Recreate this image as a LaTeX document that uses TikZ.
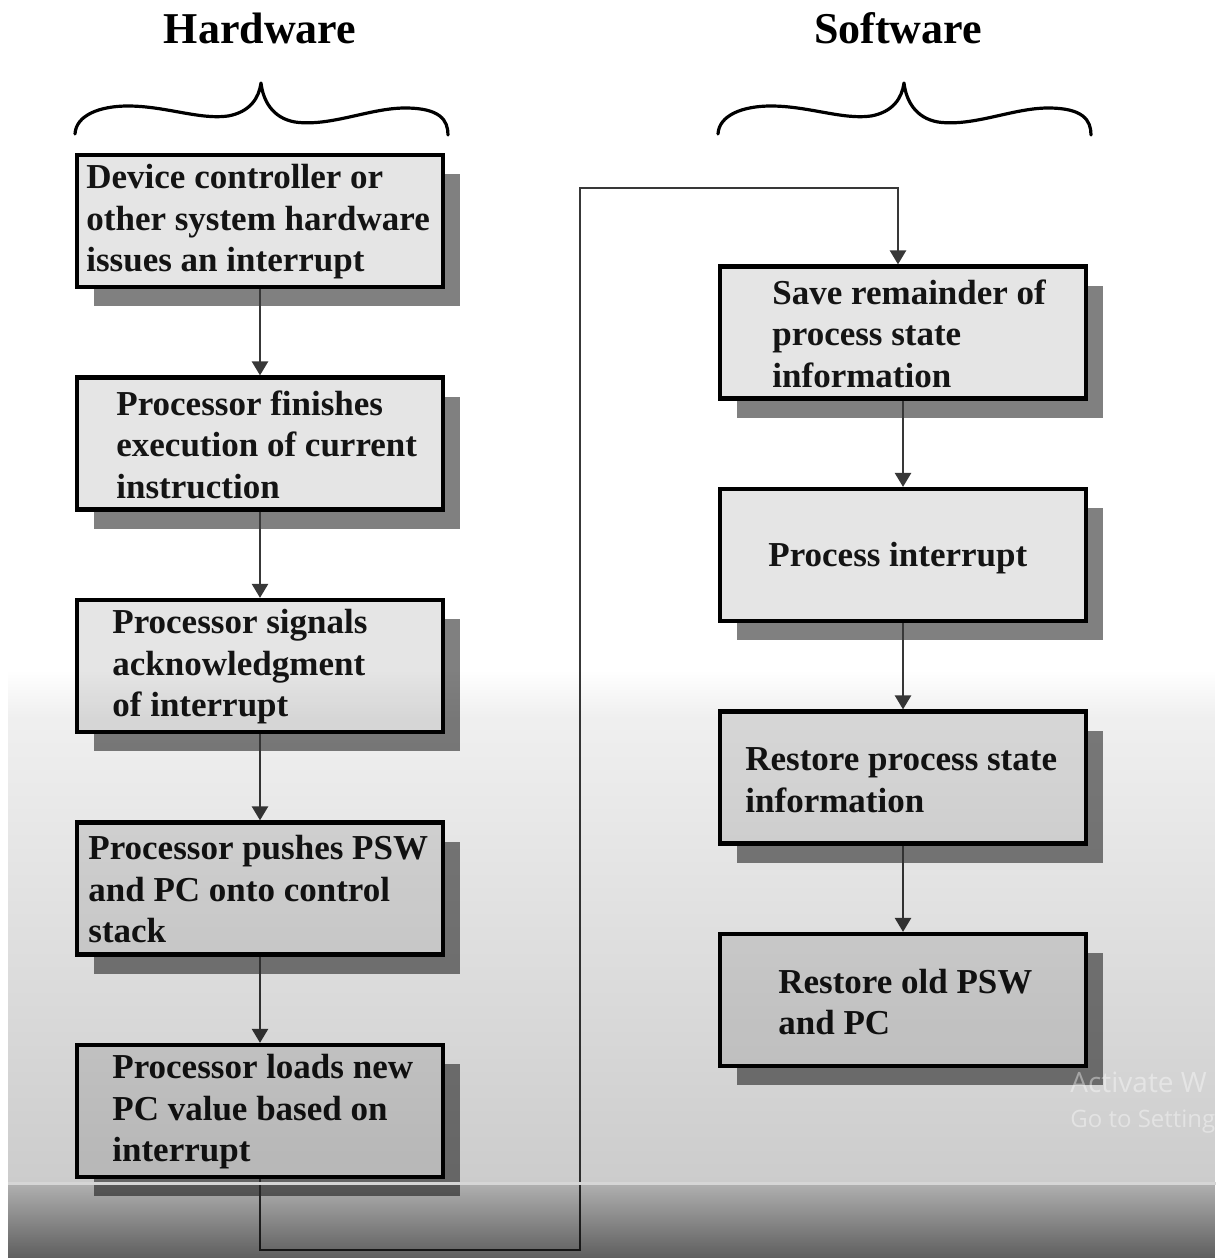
\documentclass[tikz,border=0pt]{standalone}
\usepackage{fontspec}
\setmainfont{Liberation Serif}
\newfontfamily\wmfont{Open Sans}
\usetikzlibrary{arrows.meta,shadows,fadings,calc}

% fadings for the grey veil over the lower part of the page
\tikzfading[name=veilstart, top color=transparent!100, bottom color=transparent!0]
\tikzfading[name=veilfade, top color=transparent!70, bottom color=transparent!0]
\tikzfading[name=bandfade, top color=transparent!50, bottom color=transparent!0]

\begin{document}
\begin{tikzpicture}[x=0.5pt,y=-0.5pt,
  stepbox/.style={draw=black, line width=2.1pt, fill=black!10,
    minimum width=183pt, minimum height=66pt, inner sep=0pt,
    drop shadow={shadow xshift=8.5pt, shadow yshift=-9.5pt, fill=black!50, opacity=1}},
  boxtext/.style={anchor=west, align=left, inner sep=0pt, text=black!92,
    font=\bfseries\fontsize{17.5pt}{20.75pt}\selectfont},
  flow/.style={draw=black!78, line width=1.25pt, -{Triangle[width=8pt,length=7pt]}},
  heading/.style={inner sep=0pt, font=\bfseries\fontsize{22pt}{26pt}\selectfont},
  curly/.pic={
    \draw[line width=1.6pt, line cap=round, line join=round]
      (-186,51) .. controls (-185,32) and (-161,23) .. (-133,23)
      .. controls (-96,23) and (-61,37) .. (-33,33)
      .. controls (-11,29) and (-2,15) .. (0,0)
      .. controls (2,17) and (11,35) .. (34,39)
      .. controls (69,44) and (109,25) .. (144,25)
      .. controls (179,25) and (187,37) .. (187,52);
  }]

\clip (0,0) rectangle (1216,1258);
\fill[white] (0,0) rectangle (1216,1258);

% column headings and braces
\node[heading] (hw) at (260,28) {Hardware};
\node[heading] (sw) at (898,28) {Software};
\pic at (261,83) {curly};
\pic at (904,83) {curly};

% hardware steps
\node[stepbox] (l1) at (260,221) {};
\node[stepbox] (l2) at (260,443.5) {};
\node[stepbox] (l3) at (260,666) {};
\node[stepbox] (l4) at (260,888.5) {};
\node[stepbox] (l5) at (260,1111) {};

% software steps
\node[stepbox] (r1) at (903,332.5) {};
\node[stepbox] (r2) at (903,555) {};
\node[stepbox] (r3) at (903,777.5) {};
\node[stepbox] (r4) at (903,1000) {};

% step texts
\node[boxtext] (t1) at (86,222) {Device controller or\\other system hardware\\issues an interrupt};
\node[boxtext] (t2) at (116,444.5) {Processor finishes\\execution of current\\instruction};
\node[boxtext] (t3) at (112,667) {Processor signals\\acknowledgment\\of interrupt};
\node[boxtext] (t4) at (88,889.5) {Processor pushes PSW\\and PC onto control\\stack};
\node[boxtext] (t5) at (112,1112) {Processor loads new\\PC value based on\\interrupt};
\node[boxtext] (t6) at (772,333.5) {Save remainder of\\process state\\information};
\node[boxtext] (t7) at (768,558) {Process interrupt};
\node[boxtext] (t8) at (745,780) {Restore process state\\information};
\node[boxtext] (t9) at (778,1002) {Restore old PSW\\and PC};

% arrows
\draw[flow] (l1) -- (l2);
\draw[flow] (l2) -- (l3);
\draw[flow] (l3) -- (l4);
\draw[flow] (l4) -- (l5);
\draw[flow] (r1) -- (r2);
\draw[flow] (r2) -- (r3);
\draw[flow] (r3) -- (r4);

% hand-over from hardware to software
\coordinate (low) at (580,1250);
\coordinate (high) at (580,188);
\coordinate (r1in) at ($(r1.north)+(-5,0)$);
\draw[flow] (l5.south) |- (low) -- (high) -| (r1in);

% grey veil and bottom band
\fill[black, fill opacity=0.06, path fading=veilstart] (8,670) rectangle (1216,715);
\fill[black, fill opacity=0.2, path fading=veilfade] (8,715) rectangle (1216,1182);
\fill[black!16] (8,1182) rectangle (1216,1185);
\fill[black, fill opacity=0.63, path fading=bandfade] (8,1185) rectangle (1216,1258);

% faint system notice
\node[anchor=base west, inner sep=0pt, text=white, text opacity=0.4,
  font=\wmfont\fontsize{14pt}{17pt}\selectfont] (wm1) at (1070,1092) {Activate W};
\node[anchor=base west, inner sep=0pt, text=white, text opacity=0.4,
  font=\wmfont\fontsize{12pt}{15pt}\selectfont] (wm2) at (1070,1127) {Go to Setting};
\end{tikzpicture}
\end{document}
